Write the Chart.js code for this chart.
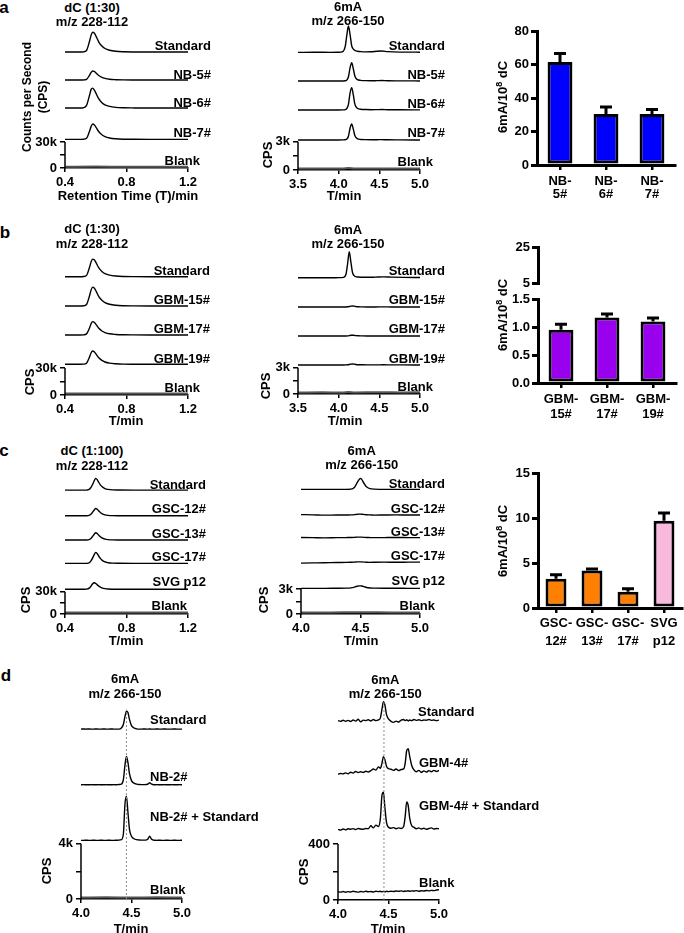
<!DOCTYPE html>
<html><head><meta charset="utf-8">
<script src="https://cdn.jsdelivr.net/npm/chart.js@4.4.1/dist/chart.umd.min.js"></script>
<style>
html,body{margin:0;padding:0;background:#fff;}
body{width:684px;height:933px;position:relative;overflow:hidden;font-family:"Liberation Sans",Arial,Helvetica,sans-serif;font-weight:bold;color:#000;}
canvas{position:absolute;}
.t{position:absolute;white-space:nowrap;font-size:13px;line-height:1;transform:translate(-50%,-50%);}
.r{transform:translate(-50%,-50%) rotate(-90deg);}
.sup{font-size:9px;position:relative;top:-5px;}
</style></head><body>
<script>
// ---------------- DATA ----------------
// dC chromatograms (1:30), time in min, signal in thousand CPS
const DC30_T = [0.40,0.46,0.50,0.52,0.54,0.56,0.57,0.58,0.59,0.60,0.62,0.64,0.66,0.69,0.73,0.78,0.85,0.95,1.05,1.20];
const BLANK_DC_T = [0.40,0.60,0.80,1.00,1.20];
const A_DC_STANDARD = [0,0,0,0.2,1.8,12.7,19.5,23,21.9,18.9,11.5,6.9,4.1,2.1,0.9,0.35,0.1,0,0,0];
const A_DC_NB5 = [0,0,0,0.1,0.8,5.7,8.8,10.4,9.9,8.5,5.2,3.1,1.9,0.9,0.4,0.15,0.05,0,0,0];
const A_DC_NB6 = [0,0,0,0.3,3,15,21.5,23,21,17.5,10.5,6.2,3.7,1.9,0.8,0.3,0.1,0,0,0];
const A_DC_NB7 = [0,0,0,0.2,1.4,9.7,15,17.7,16.8,14.5,8.8,5.3,3.2,1.6,0.7,0.25,0.1,0,0,0];
const A_DC_BLANK = [0,0.1,0,0.05,0];
const A_DC_OFFSETS = [133.8,101.5,69.2,33,1.5];

const B_DC_STANDARD = [0,0,0,0.2,1.5,10.8,16.7,19.6,18.8,16.2,9.8,5.9,3.5,1.8,0.8,0.3,0.1,0,0,0];
const B_DC_GBM15 = [0,0,0,0.2,1.7,11.6,17.9,21,20,17.2,10.5,6.3,3.8,1.9,0.8,0.3,0.1,0,0,0];
const B_DC_GBM17 = [0,0,0,0.15,1.2,8.1,12.6,14.8,14.1,12.1,7.4,4.4,2.7,1.3,0.6,0.2,0.07,0,0,0];
const B_DC_GBM19 = [0,0,0,0.15,1.3,8.4,12.8,14.8,13.9,11.8,7.2,4.3,2.6,1.3,0.6,0.2,0.07,0,0,0];
const B_DC_BLANK = [0,0.05,0,0.05,0];
const B_DC_OFFSETS = [131.4,98.9,66.7,34.1,1.7];

// dC (1:100)
const DC100_T = [0.40,0.50,0.54,0.56,0.57,0.58,0.59,0.60,0.61,0.62,0.63,0.64,0.66,0.68,0.71,0.75,0.85,1.00,1.20];
const C_DC_STANDARD = [0,0,0,1.3,3.9,7.9,12.6,15.7,13.8,10.2,7.1,4.7,2,0.9,0.3,0.15,0,0,0];
const C_DC_GSC12 = [0,0,0,0.8,2.5,5,7.9,9.9,8.7,6.4,4.5,3,1.3,0.6,0.2,0.1,0,0,0];
const C_DC_GSC13 = [0,0,0,0.8,2.4,4.9,7.8,9.8,8.6,6.4,4.4,2.9,1.3,0.6,0.2,0.1,0,0,0];
const C_DC_GSC17 = [0,0,0,1.2,3.7,7.4,11.8,14.8,13,9.6,6.7,4.4,1.9,0.9,0.3,0.15,0,0,0];
const C_DC_SVG = [0,0,0.3,2,4.5,7.6,8.9,7.9,6,4.3,3,2,0.9,0.4,0.15,0.05,0,0,0];
const C_DC_BLANK = [0,0.1,0,0.05,0];
const C_DC_OFFSETS = [166.7,132.1,99.5,68.1,33.2,2];

// 6mA chromatograms, thousand CPS
const A_6MA_T = [3.50,3.70,3.90,4.00,4.05,4.08,4.10,4.12,4.14,4.16,4.18,4.20,4.23,4.27,4.33,4.40,4.47,4.53,4.60,4.75,5.00];
const BLANK_6MA_T = [3.50,3.80,4.05,4.12,4.20,4.50,4.80,5.00];
const A_6MA_STANDARD = [0,0.01,0,0.01,0.08,0.6,1.8,2.79,1.9,0.7,0.35,0.2,0.12,0.08,0.05,0.06,0.12,0.14,0.08,0.03,0.02];
const A_6MA_NB5 = [0,0,0,0,0.01,0.03,0.1,0.45,1.4,1.94,1.3,0.5,0.15,0.07,0.04,0.03,0.04,0.05,0.03,0.02,0.01];
const A_6MA_NB6 = [0,0,0,0,0.01,0.04,0.15,0.6,1.8,2.36,1.6,0.6,0.18,0.08,0.05,0.03,0.04,0.05,0.03,0.02,0.01];
const A_6MA_NB7 = [0,0,0,0,0.01,0.03,0.1,0.4,1.25,1.7,1.15,0.45,0.14,0.06,0.04,0.03,0.03,0.04,0.02,0.01,0];
const A_6MA_BLANK = [0,0.02,0.01,0.06,0.01,0.02,0,0.01];
const A_6MA_OFFSETS = [12.47,9.43,6.36,3.18,0.15];

const B_6MA_T = [3.50,3.70,3.90,4.00,4.06,4.09,4.11,4.13,4.15,4.17,4.19,4.21,4.24,4.28,4.35,4.45,4.55,4.65,4.80,5.00];
const B_6MA_STANDARD = [0,0,0,0.01,0.05,0.4,1.6,2.96,1.8,0.6,0.25,0.12,0.08,0.06,0.05,0.07,0.1,0.07,0.04,0.03];
const B_6MA_GBM15 = [0,0,0,0,0,0.01,0.03,0.06,0.1,0.12,0.1,0.06,0.03,0.02,0.01,0.01,0.02,0.01,0.01,0];
const B_6MA_GBM17 = [0,0,0,0,0,0.01,0.02,0.05,0.09,0.1,0.08,0.05,0.03,0.02,0.01,0.01,0.01,0.01,0,0];
const B_6MA_GBM19 = [0,0,0,0,0,0.01,0.03,0.06,0.1,0.12,0.1,0.06,0.03,0.02,0.01,0.01,0.02,0.01,0.01,0];
const B_6MA_BLANK = [0,0.02,0.01,0.06,0.01,0.03,0.01,0.02];
const B_6MA_OFFSETS = [13.26,9.92,6.61,3.31,0.17];

const C_6MA_T = [4.00,4.10,4.20,4.30,4.38,4.42,4.45,4.47,4.49,4.50,4.51,4.53,4.55,4.58,4.62,4.70,4.80,4.90,5.00];
const BLANK_6MC_T = [4.00,4.25,4.50,4.75,5.00];
const C_6MA_STANDARD = [0,0,0,0,0,0.02,0.25,0.75,1.2,1.32,1.2,0.7,0.3,0.08,0.02,0,0,0,0];
const C_6MA_GSC12 = [0.05,0.02,-0.02,0,0,0.02,0.05,0.08,0.1,0.1,0.09,0.06,0.03,0.01,-0.01,0,0.01,0,0];
const C_6MA_GSC13 = [0.02,0,-0.02,0,0.01,0.02,0.04,0.06,0.07,0.07,0.06,0.04,0.02,0.01,0,0.01,0.02,0.01,0];
const C_6MA_GSC17 = [-0.05,-0.03,-0.01,0.02,0.03,0.05,0.07,0.09,0.1,0.1,0.09,0.07,0.05,0.04,0.05,0.06,0.05,0.06,0.07];
const C_6MA_SVG = [0,0,0,0.01,0.02,0.05,0.15,0.25,0.3,0.3,0.28,0.2,0.1,0.04,0.02,0.01,0.01,0,0];
const C_6MA_BLANK = [0,0.01,0.03,0.01,0];
const C_6MA_OFFSETS = [14.96,11.88,9.16,6.16,3.08,0.18];

// panel d
const D_T = [4.000,4.025,4.050,4.075,4.100,4.125,4.150,4.175,4.200,4.225,4.250,4.275,4.300,4.325,4.350,4.375,4.400,4.420,4.435,4.450,4.465,4.480,4.500,4.525,4.550,4.575,4.600,4.625,4.650,4.665,4.680,4.695,4.710,4.730,4.750,4.775,4.800,4.825,4.850,4.875,4.900,4.925,4.950,4.975,5.000];
const D_LEFT_STANDARD = [0,0.01,0,0.01,0,0,0.01,0,0,0.01,0,0,0.01,0,0,0, 0.08,0.35,0.9,1.3,1.2,0.7,0.25,0.08,0.02, 0,0,0.01,0,0,0.01,0,0,0,0.01,0,0,0.01,0,0,0,0.01,0,0,0];
const D_LEFT_NB2 = [0,0.01,0,0,0.01,0,0,0.01,0,0,0.01,0,0,0.01,0,0.02, 0.05,0.4,1.4,2.05,1.6,0.8,0.3,0.12,0.05, 0.02,0.01,0.01,0.02,0.06,0.15,0.06,0.02, 0,0.01,0,0,0.01,0,0,0.01,0,0,0.01,0];
const D_LEFT_NB2STD = [0,0,0.01,0,0,0.01,0,0,0.01,0,0,0.01,0,0,0.01,0.02, 0.05,0.5,2.6,3.2,2.0,0.8,0.3,0.12,0.05, 0.03,0.02,0.02,0.04,0.12,0.3,0.12,0.04, 0.01,0,0.01,0,0,0.01,0,0,0.01,0,0,0.01];
const D_BLANK_T = [4.00,4.25,4.50,4.75,5.00];
const D_LEFT_BLANK = [0,0.02,0.01,0.02,0];
const D_LEFT_OFFSETS = [12.29,8.26,4.24,0.1];
const D_LEFT_MARK = [4.45, 13.7];   // retention time, top of dotted guide (k CPS)

const D_RIGHT_STANDARD = [0,-5,3,-4,2,-6,5,-3,10,-8,4,0,6,-2,8,0,5,20,80,136,110,45,12,-5,-12,-3,-10,4,8,0,6,-2,5,0,8,2,6,0,5,3,8,2,5,0,4];
const D_RIGHT_GBM4 = [-18,-12,-15,-8,-14,-4,-10,2,-6,0,-5,4,-2,8,20,12,35,25,60,108,85,40,22,18,10,20,8,16,20,60,150,165,110,45,15,0,10,-4,6,-2,8,0,10,2,10];
const D_RIGHT_GBM4STD = [0,-6,2,-4,4,0,5,-2,6,2,0,6,4,25,10,30,20,80,240,265,150,50,15,8,12,4,10,6,20,90,195,170,80,25,15,4,10,2,8,0,6,10,2,6,4];
const D_RIGHT_BLANK = [0,-3,2,-4,1,-2,3,0,-3,2,-1,3,0,2,-2,4,1,3,0,2,-1,3,1,4,2,5,3,6,2,5,4,7,3,6,5,8,4,7,5,9,6,10,8,12,15];
const D_RIGHT_OFFSETS = [1281,916,505,59];
const D_RIGHT_MARK = [4.455, 1430];

// bar charts: 6mA / 10^8 dC
const BAR_A_LABELS = [['NB-','5#'],['NB-','6#'],['NB-','7#']];
const BAR_A_VALUES = [61.5,30.4,30.4];
const BAR_A_ERRORS = [5.0,4.3,2.8];
const BAR_A_TICKS = [0,20,40,60,80];
const BAR_B_LABELS = [['GBM-','15#'],['GBM-','17#'],['GBM-','19#']];
const BAR_B_VALUES = [0.95,1.17,1.10];
const BAR_B_ERRORS = [0.10,0.06,0.06];
const BAR_B_TICKS_LOW = [0,0.5,1.0,1.5];
const BAR_B_TICKS_HIGH = [5,25];
const BAR_C_LABELS = [['GSC-','12#'],['GSC-','13#'],['GSC-','17#'],['SVG','p12']];
const BAR_C_VALUES = [3.26,4.18,1.81,9.7];
const BAR_C_ERRORS = [0.44,0.15,0.33,0.85];
const BAR_C_TICKS = [0,5,10,15];

// ---------------- RENDER ----------------
Chart.defaults.font.family = '"Liberation Sans", Arial, Helvetica, sans-serif';
Chart.defaults.font.weight = 'bold';
Chart.defaults.font.size = 13;
Chart.defaults.color = '#000';
const FONT = 'bold 13px "Liberation Sans", Arial, Helvetica, sans-serif';

function mkCanvas(l,t,w,h){
  const c=document.createElement('canvas');
  c.width=w;c.height=h;c.style.left=l+'px';c.style.top=t+'px';c.style.width=w+'px';c.style.height=h+'px';
  document.body.appendChild(c);return c;
}
function txt(s,cx,cy,o={}){
  const d=document.createElement('div');d.className='t'+(o.rot?' r':'');d.innerHTML=s;
  d.style.left=cx+'px';d.style.top=cy+'px';if(o.size)d.style.fontSize=o.size+'px';
  document.body.appendChild(d);
}

function chrom(p){
  const YW=70,XH=40,PR=100,PT=12;
  const l=Math.round(p.left),r=Math.round(p.right),b=Math.round(p.zeroPx),top=Math.round(p.topPx);
  const pxPerUnit=(p.zeroPx-p.tickPx)/p.yTicks[p.yTicks.length-1];
  const ymax=(b-top)/pxPerUnit;
  const cv=mkCanvas(l-YW,top-PT,r-l+YW+PR,b-top+PT+XH);
  const ds=[];
  if(p.mark) ds.push({data:[{x:p.mark[0],y:0},{x:p.mark[0],y:p.mark[1]}],borderColor:'#8a8a8a',borderWidth:1,borderDash:[2,2],pointRadius:0,tension:0});
  p.traces.forEach((tr,i)=>{
    ds.push({data:tr.t.map((x,j)=>({x,y:tr.v[j]+p.offsets[i]})),borderColor:tr.blank?'#555':'#000',
      borderWidth:tr.blank?2:1.4,pointRadius:0,cubicInterpolationMode:'monotone',fill:false});
  });
  const yAxisTop=p.yTicks[p.yTicks.length-1];
  const deco={id:'deco',
    afterDatasetsDraw(chart){
      const {ctx,chartArea:ca,scales:{y}}=chart;
      ctx.save();
      ctx.strokeStyle='#000';ctx.lineWidth=1.5;ctx.beginPath();
      ctx.moveTo(ca.left,y.getPixelForValue(0)+0.75);ctx.lineTo(ca.left,y.getPixelForValue(yAxisTop));ctx.stroke();
      ctx.font=FONT;ctx.fillStyle='#000';ctx.textBaseline='middle';
      p.traces.forEach((tr,i)=>{
        const L=p.labels[i];
        const yy=y.getPixelForValue(p.offsets[i])+L.dy;
        if(L.align==='left'){ctx.textAlign='left';ctx.fillText(tr.name,ca.left+L.dx,yy);}
        else{ctx.textAlign='right';ctx.fillText(tr.name,ca.right+L.dx,yy);}
      });
      ctx.restore();
    }};
  new Chart(cv,{type:'line',data:{datasets:ds},
    options:{responsive:false,animation:false,devicePixelRatio:1,
      layout:{padding:{left:0,right:PR,top:PT,bottom:0}},
      plugins:{legend:{display:false},tooltip:{enabled:false}},
      scales:{
        x:{type:'linear',min:p.xTicks[0],max:p.xTicks[p.xTicks.length-1],
          afterBuildTicks:s=>{s.ticks=p.xTicks.map(v=>({value:v}));},
          afterFit:s=>{s.height=XH;s.paddingLeft=0;s.paddingRight=0;},
          ticks:{autoSkip:false,maxRotation:0,padding:3,callback:v=>Number(v).toFixed(1)},
          grid:{display:true,drawOnChartArea:false,drawTicks:true,tickLength:4,color:'#000',lineWidth:1.5},
          border:{display:true,color:'#000',width:1.5}},
        y:{min:0,max:ymax,
          afterBuildTicks:s=>{s.ticks=p.yTicks.map(v=>({value:v}));},
          afterFit:s=>{s.width=YW;s.paddingTop=0;s.paddingBottom=0;},
          ticks:{autoSkip:false,padding:3,callback:v=>{const k=p.yTicks.indexOf(v);return k>=0?p.yLabels[k]:'';}},
          grid:{display:true,drawOnChartArea:false,drawTicks:true,tickLength:5,color:'#000',lineWidth:1.5},
          border:{display:false}}
      }},plugins:[deco]});
}

function barChart(p){
  const YW=60,PR=14,PT=10,XH=p.showX?52:0,PB=p.showX?0:6;
  const cv=mkCanvas(p.left-YW,p.top-PT,p.right-p.left+YW+PR,p.bottom-p.top+PT+XH+PB);
  const err={id:'err',afterDatasetsDraw(chart){
    if(!p.errors)return;
    const {ctx,scales:{y}}=chart;const meta=chart.getDatasetMeta(0);
    ctx.save();ctx.strokeStyle='#000';ctx.lineWidth=3;ctx.lineCap='butt';
    meta.data.forEach((bar,i)=>{
      const base=y.getPixelForValue(p.values[i]),tp=y.getPixelForValue(p.values[i]+p.errors[i]);
      ctx.beginPath();ctx.moveTo(bar.x,base);ctx.lineTo(bar.x,tp);ctx.moveTo(bar.x-6,tp);ctx.lineTo(bar.x+6,tp);ctx.stroke();
    });
    ctx.restore();}};
  new Chart(cv,{type:'bar',
    data:{labels:p.labels,datasets:[{data:p.values,hidden:!p.errors,backgroundColor:p.colors,borderColor:'#000',borderWidth:3,borderSkipped:false,barPercentage:p.bp,categoryPercentage:1}]},
    options:{responsive:false,animation:false,devicePixelRatio:1,
      layout:{padding:{left:0,right:PR,top:PT,bottom:PB}},
      plugins:{legend:{display:false},tooltip:{enabled:false}},
      scales:{
        x:{display:p.showX,offset:true,
          grid:{offset:false,drawOnChartArea:false,drawTicks:true,tickLength:5,lineWidth:2.5,color:'#000'},
          border:{display:true,width:3,color:'#000'},
          ticks:{autoSkip:false,maxRotation:0,padding:p.pad||4,font:{size:13,weight:'bold',lineHeight:p.lh||1.05}},
          afterFit:s=>{s.height=XH;s.paddingLeft=0;s.paddingRight=0;}},
        y:{min:p.ticks[0],max:p.ticks[p.ticks.length-1],
          afterBuildTicks:s=>{s.ticks=p.ticks.map(v=>({value:v}));},
          afterFit:s=>{s.width=YW;s.paddingTop=0;s.paddingBottom=0;},
          ticks:{autoSkip:false,padding:2,callback:v=>p.fmt?Number(v).toFixed(1):String(v)},
          grid:{drawOnChartArea:false,drawTicks:true,tickLength:6,lineWidth:3,color:'#000'},
          border:{display:true,width:3,color:'#000'}}
      }},plugins:[err]});
}

const R=(dx,dy)=>({align:'right',dx,dy});
const Lf=(dx,dy)=>({align:'left',dx,dy});

// ----- panel a -----
chrom({left:65,right:188,zeroPx:168,tickPx:142,topPx:29,
  xTicks:[0.4,0.8,1.2],yTicks:[0,15,30],yLabels:['0','','30k'],offsets:A_DC_OFFSETS,
  traces:[{name:'Standard',t:DC30_T,v:A_DC_STANDARD},{name:'NB-5#',t:DC30_T,v:A_DC_NB5},{name:'NB-6#',t:DC30_T,v:A_DC_NB6},{name:'NB-7#',t:DC30_T,v:A_DC_NB7},{name:'Blank',t:BLANK_DC_T,v:A_DC_BLANK,blank:true}],
  labels:[R(23,-5.5),R(23,-5),R(23,-5),R(23,-5.5),R(12,-5)]});
chrom({left:298,right:420,zeroPx:170,tickPx:141.7,topPx:24,
  xTicks:[3.5,4.0,4.5,5.0],yTicks:[0,1.5,3],yLabels:['0','','3k'],offsets:A_6MA_OFFSETS,
  traces:[{name:'Standard',t:A_6MA_T,v:A_6MA_STANDARD},{name:'NB-5#',t:A_6MA_T,v:A_6MA_NB5},{name:'NB-6#',t:A_6MA_T,v:A_6MA_NB6},{name:'NB-7#',t:A_6MA_T,v:A_6MA_NB7},{name:'Blank',t:BLANK_6MA_T,v:A_6MA_BLANK,blank:true}],
  labels:[R(25,-6),R(25,-6),R(25,-6),R(25,-6.5),R(13,-6)]});
barChart({left:537,right:675,top:31,bottom:165,labels:BAR_A_LABELS,values:BAR_A_VALUES,errors:BAR_A_ERRORS,
  ticks:BAR_A_TICKS,colors:'#0000ff',bp:0.54,showX:true,pad:5,lh:1.02});

// ----- panel b -----
chrom({left:65,right:188,zeroPx:395,tickPx:368,topPx:255,
  xTicks:[0.4,0.8,1.2],yTicks:[0,15,30],yLabels:['0','','30k'],offsets:B_DC_OFFSETS,
  traces:[{name:'Standard',t:DC30_T,v:B_DC_STANDARD},{name:'GBM-15#',t:DC30_T,v:B_DC_GBM15},{name:'GBM-17#',t:DC30_T,v:B_DC_GBM17},{name:'GBM-19#',t:DC30_T,v:B_DC_GBM19},{name:'Blank',t:BLANK_DC_T,v:B_DC_BLANK,blank:true}],
  labels:[R(22,-5),R(22,-6),R(22,-5.5),R(22,-5),R(12,-5)]});
chrom({left:298,right:420,zeroPx:394,tickPx:367.7,topPx:249,
  xTicks:[3.5,4.0,4.5,5.0],yTicks:[0,1.5,3],yLabels:['0','','3k'],offsets:B_6MA_OFFSETS,
  traces:[{name:'Standard',t:B_6MA_T,v:B_6MA_STANDARD},{name:'GBM-15#',t:B_6MA_T,v:B_6MA_GBM15},{name:'GBM-17#',t:B_6MA_T,v:B_6MA_GBM17},{name:'GBM-19#',t:B_6MA_T,v:B_6MA_GBM19},{name:'Blank',t:BLANK_6MA_T,v:B_6MA_BLANK,blank:true}],
  labels:[R(25,-6),R(25,-6.5),R(25,-6.5),R(25,-6),R(13,-5)]});
barChart({left:538,right:676,top:247,bottom:283,labels:BAR_B_LABELS,values:BAR_B_VALUES,errors:null,
  ticks:BAR_B_TICKS_HIGH,colors:'#9900ee',bp:0.54,showX:false});
barChart({left:538,right:676,top:299,bottom:383,labels:BAR_B_LABELS,values:BAR_B_VALUES,errors:BAR_B_ERRORS,
  ticks:BAR_B_TICKS_LOW,colors:'#9900ee',bp:0.54,showX:true,pad:4,lh:1.15,fmt:1});

// ----- panel c -----
chrom({left:65,right:188,zeroPx:614,tickPx:591.7,topPx:476,
  xTicks:[0.4,0.8,1.2],yTicks:[0,15,30],yLabels:['0','','30k'],offsets:C_DC_OFFSETS,
  traces:[{name:'Standard',t:DC100_T,v:C_DC_STANDARD},{name:'GSC-12#',t:DC100_T,v:C_DC_GSC12},{name:'GSC-13#',t:DC100_T,v:C_DC_GSC13},{name:'GSC-17#',t:DC100_T,v:C_DC_GSC17},{name:'SVG p12',t:DC100_T,v:C_DC_SVG},{name:'Blank',t:BLANK_DC_T,v:C_DC_BLANK,blank:true}],
  labels:[R(18,-5),R(18,-6),R(18,-6),R(18,-6),R(18,-7),R(-1,-6)]});
chrom({left:301,right:420,zeroPx:614,tickPx:589,topPx:476,
  xTicks:[4.0,4.5,5.0],yTicks:[0,1.5,3],yLabels:['0','','3k'],offsets:C_6MA_OFFSETS,
  traces:[{name:'Standard',t:C_6MA_T,v:C_6MA_STANDARD},{name:'GSC-12#',t:C_6MA_T,v:C_6MA_GSC12},{name:'GSC-13#',t:C_6MA_T,v:C_6MA_GSC13},{name:'GSC-17#',t:C_6MA_T,v:C_6MA_GSC17},{name:'SVG p12',t:C_6MA_T,v:C_6MA_SVG},{name:'Blank',t:BLANK_6MC_T,v:C_6MA_BLANK,blank:true}],
  labels:[R(25,-5),R(25,-6),R(25,-5.5),R(25,-6),R(25,-6.5),R(15,-6)]});
barChart({left:538,right:682,top:473,bottom:608,labels:BAR_C_LABELS,values:BAR_C_VALUES,errors:BAR_C_ERRORS,
  ticks:BAR_C_TICKS,colors:['#ff7f00','#ff7f00','#ff7f00','#f9b9dc'],bp:0.58,showX:true,pad:1,lh:1.4});

// ----- panel d -----
chrom({left:81,right:182,zeroPx:899.3,tickPx:844,topPx:705,
  xTicks:[4.0,4.5,5.0],yTicks:[0,2,4],yLabels:['0','','4k'],offsets:D_LEFT_OFFSETS,mark:D_LEFT_MARK,
  traces:[{name:'Standard',t:D_T,v:D_LEFT_STANDARD},{name:'NB-2#',t:D_T,v:D_LEFT_NB2},{name:'NB-2# + Standard',t:D_T,v:D_LEFT_NB2STD},{name:'Blank',t:D_BLANK_T,v:D_LEFT_BLANK,blank:true}],
  labels:[Lf(69,-8.3),Lf(69,-7),Lf(69,-23),Lf(69,-7)]});
chrom({left:338,right:439,zeroPx:900,tickPx:844,topPx:697,
  xTicks:[4.0,4.5,5.0],yTicks:[0,200,400],yLabels:['0','','400'],offsets:D_RIGHT_OFFSETS,mark:D_RIGHT_MARK,
  traces:[{name:'Standard',t:D_T,v:D_RIGHT_STANDARD},{name:'GBM-4#',t:D_T,v:D_RIGHT_GBM4},{name:'GBM-4# + Standard',t:D_T,v:D_RIGHT_GBM4STD},{name:'Blank',t:D_T,v:D_RIGHT_BLANK}],
  labels:[Lf(80,-8),Lf(81,-8.4),Lf(81,-23.3),Lf(81,-8.4)]});

// ----- texts -----
txt('a',4,7,{size:17});txt('b',5,232,{size:17});txt('c',4,450,{size:17});txt('d',6,675,{size:17});
txt('dC (1:30)',92,6.5);txt('m/z 228-112',92,20.5);
txt('6mA',348,5.5);txt('m/z 266-150',348,20);
txt('Counts per Second',27,97,{rot:1,size:12});txt('(CPS)',43,97,{rot:1,size:12});
txt('Retention Time (T)/min',128,195);
txt('CPS',267,155,{rot:1});txt('T/min',344,195);
txt('6mA/10<span class="sup">8</span> dC',502,97,{rot:1});

txt('dC (1:30)',92,228.3);txt('m/z 228-112',92,243.3);
txt('6mA',348,229.3);txt('m/z 266-150',348,243.3);
txt('CPS',29,382,{rot:1});txt('T/min',126,420);
txt('CPS',265,386,{rot:1});txt('T/min',345,420);
txt('6mA/10<span class="sup">8</span> dC',502,315,{rot:1});

txt('dC (1:100)',92,450);txt('m/z 228-112',92,465);
txt('6mA',361.7,450);txt('m/z 266-150',361.7,464);
txt('CPS',25,600,{rot:1});txt('T/min',126,640);
txt('CPS',263,600,{rot:1});txt('T/min',361,640);
txt('6mA/10<span class="sup">8</span> dC',502,541,{rot:1});

txt('6mA',125,678.3);txt('m/z 266-150',125,692.7);
txt('CPS',46,871,{rot:1});txt('T/min',131,928);
txt('6mA',385.3,679);txt('m/z 266-150',385.3,692.7);
txt('CPS',303,872,{rot:1});txt('T/min',388,928);
</script>
</body></html>
